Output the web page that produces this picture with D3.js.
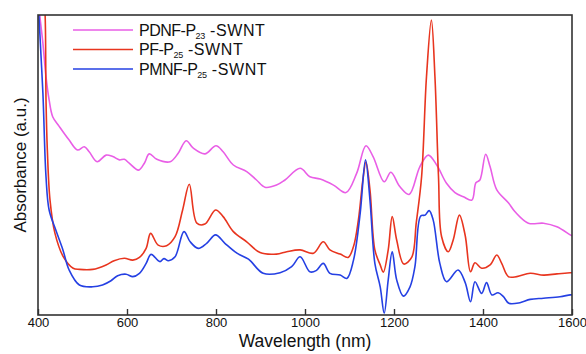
<!DOCTYPE html>
<html>
<head>
<meta charset="utf-8">
<script src="https://cdn.jsdelivr.net/npm/d3@7"></script>
<style>
  body { margin: 0; background: #fff; }
  svg { display: block; }
  text { font-family: "Liberation Sans", Arial, Helvetica, sans-serif; fill: #111; }
</style>
</head>
<body>
<svg id="chart" width="586" height="354"></svg>
<script>
// ---- Data (wavelength in nm, absorbance in arbitrary units) ----
const xTicks = [400, 600, 800, 1000, 1200, 1400, 1600];
const seriesNames = ["PDNF-P|23| -SWNT", "PF-P|25| -SWNT", "PMNF-P|25| -SWNT"];
const seriesColors = ["#e95ee6", "#e8351f", "#2540e3"];

const pdnfWl  = [400, 404, 411, 418, 425, 433, 448, 470, 489, 504, 515, 533, 553, 568, 583, 594, 605, 626, 639, 650, 667, 697, 715, 733, 749, 775, 800, 816, 839, 869, 891, 910, 936, 955, 989, 1011, 1034, 1064, 1092, 1116, 1137, 1153, 1178, 1193, 1213, 1234, 1258, 1277, 1296, 1318, 1337, 1356, 1375, 1384, 1393, 1406, 1416, 1431, 1457, 1472, 1502, 1536, 1566, 1596, 1600];
const pdnfAbs = [1.08, 1.0, 0.906, 0.794, 0.717, 0.661, 0.628, 0.583, 0.55, 0.561, 0.544, 0.511, 0.533, 0.528, 0.517, 0.519, 0.506, 0.483, 0.506, 0.537, 0.519, 0.511, 0.539, 0.581, 0.556, 0.537, 0.564, 0.544, 0.5, 0.478, 0.45, 0.426, 0.433, 0.45, 0.489, 0.461, 0.453, 0.433, 0.408, 0.472, 0.564, 0.528, 0.444, 0.476, 0.428, 0.402, 0.494, 0.533, 0.5, 0.439, 0.408, 0.394, 0.383, 0.441, 0.45, 0.536, 0.494, 0.417, 0.374, 0.344, 0.306, 0.306, 0.294, 0.267, 0.264];

const pfWl  = [400, 410, 416, 418, 421, 427, 438, 457, 479, 493, 523, 553, 571, 594, 613, 628, 643, 653, 670, 689, 708, 725, 740, 757, 775, 799, 816, 839, 869, 899, 936, 959, 989, 1019, 1041, 1056, 1079, 1097, 1109, 1120, 1130, 1137, 1146, 1157, 1169, 1176, 1187, 1196, 1206, 1222, 1240, 1250, 1262, 1273, 1284, 1292, 1300, 1307, 1322, 1333, 1347, 1360, 1372, 1382, 1397, 1416, 1431, 1442, 1457, 1476, 1506, 1536, 1566, 1596, 1600];
const pfAbs = [1.4, 1.15, 1.0, 0.717, 0.55, 0.383, 0.273, 0.194, 0.156, 0.152, 0.152, 0.167, 0.181, 0.189, 0.183, 0.192, 0.222, 0.272, 0.233, 0.231, 0.261, 0.35, 0.436, 0.306, 0.303, 0.35, 0.328, 0.278, 0.244, 0.208, 0.203, 0.211, 0.217, 0.206, 0.244, 0.217, 0.203, 0.192, 0.228, 0.317, 0.45, 0.51, 0.417, 0.217, 0.167, 0.143, 0.217, 0.328, 0.25, 0.17, 0.193, 0.307, 0.461, 0.794, 0.983, 0.794, 0.461, 0.261, 0.211, 0.25, 0.333, 0.265, 0.144, 0.174, 0.156, 0.167, 0.2, 0.172, 0.128, 0.128, 0.139, 0.133, 0.137, 0.141, 0.141];

const pmnfWl  = [400, 402, 411, 418, 425, 440, 456, 470, 493, 523, 545, 564, 579, 598, 613, 628, 643, 654, 674, 683, 693, 708, 728, 742, 760, 779, 799, 820, 847, 873, 906, 944, 970, 989, 1011, 1025, 1041, 1056, 1079, 1094, 1109, 1124, 1136, 1146, 1157, 1169, 1178, 1187, 1196, 1206, 1221, 1236, 1247, 1260, 1270, 1279, 1288, 1303, 1318, 1344, 1360, 1372, 1382, 1397, 1408, 1420, 1434, 1446, 1458, 1483, 1506, 1536, 1573, 1596, 1600];
const pmnfAbs = [1.1, 1.0, 0.74, 0.461, 0.35, 0.283, 0.217, 0.15, 0.1, 0.094, 0.1, 0.114, 0.131, 0.136, 0.128, 0.139, 0.172, 0.202, 0.178, 0.188, 0.181, 0.194, 0.278, 0.244, 0.222, 0.239, 0.267, 0.239, 0.206, 0.186, 0.139, 0.141, 0.161, 0.194, 0.144, 0.148, 0.172, 0.139, 0.133, 0.122, 0.183, 0.339, 0.517, 0.383, 0.172, 0.094, 0.006, 0.117, 0.211, 0.117, 0.063, 0.094, 0.161, 0.33, 0.333, 0.348, 0.317, 0.172, 0.111, 0.15, 0.108, 0.044, 0.111, 0.072, 0.108, 0.067, 0.074, 0.061, 0.039, 0.041, 0.052, 0.056, 0.061, 0.067, 0.067];

const seriesWl  = [pdnfWl, pfWl, pmnfWl];
const seriesAbs = [pdnfAbs, pfAbs, pmnfAbs];

// ---- Layout ----
const svg = d3.select("#chart");
const L = 38, R = 572, T = 15, B = 315;

const x = d3.scaleLinear().domain([400, 1600]).range([L, R]);
const y = d3.scaleLinear().domain([0, 1]).range([B, T]);

svg.append("defs").append("clipPath").attr("id", "plotclip")
  .append("rect").attr("x", L).attr("y", T).attr("width", R - L).attr("height", B - T);

const line = d3.line()
  .x(d => x(d[0])).y(d => y(d[1]))
  .curve(d3.curveCatmullRom.alpha(0.5));

const g = svg.append("g").attr("clip-path", "url(#plotclip)");
seriesWl.forEach((wl, i) => {
  const pts = wl.map((w, k) => [w, seriesAbs[i][k]]);
  g.append("path")
    .attr("d", line(pts))
    .attr("fill", "none")
    .attr("stroke", seriesColors[i])
    .attr("stroke-width", 1.6)
    .attr("stroke-linejoin", "round");
});

// frame
svg.append("rect")
  .attr("x", L).attr("y", T).attr("width", R - L).attr("height", B - T)
  .attr("fill", "none").attr("stroke", "#333").attr("stroke-width", 1.6);

// bottom axis with inward ticks
const xAxis = d3.axisBottom(x).tickValues(xTicks).tickFormat(d3.format("d"))
  .tickSizeInner(-6).tickSizeOuter(0).tickPadding(5);
const ax = svg.append("g").attr("transform", `translate(0,${B})`).call(xAxis);
ax.select(".domain").remove();
ax.selectAll(".tick line").attr("stroke", "#333").attr("stroke-width", 1.4);
ax.selectAll(".tick text")
  .attr("font-size", 13).attr("fill", "#111")
  .attr("font-family", "'Liberation Sans', Arial, sans-serif")
  .attr("dy", "0.95em").attr("y", 0);

// axis titles
svg.append("text")
  .attr("x", (L + R) / 2).attr("y", 347)
  .attr("text-anchor", "middle").attr("font-size", 17.5)
  .text("Wavelength (nm)");

svg.append("text")
  .attr("transform", `translate(26,${(T + B) / 2}) rotate(-90)`)
  .attr("text-anchor", "middle").attr("font-size", 17)
  .text("Absorbance (a.u.)");

// legend
const legY = [30, 49.5, 69];
seriesNames.forEach((name, i) => {
  const lg = svg.append("g");
  lg.append("line")
    .attr("x1", 73).attr("x2", 133).attr("y1", legY[i]).attr("y2", legY[i])
    .attr("stroke", seriesColors[i]).attr("stroke-width", 1.6);
  const parts = name.split("|");
  const t = lg.append("text")
    .attr("x", 139).attr("y", legY[i] + 5.5)
    .attr("font-size", 16);
  t.append("tspan").attr("letter-spacing", "-0.5").text(parts[0]);
  t.append("tspan").attr("font-size", 9).attr("dy", 3).attr("letter-spacing", "-0.3").text(parts[1]);
  t.append("tspan").attr("dy", -3).attr("letter-spacing", "0.6").text(parts[2]);
});
</script>
</body>
</html>
